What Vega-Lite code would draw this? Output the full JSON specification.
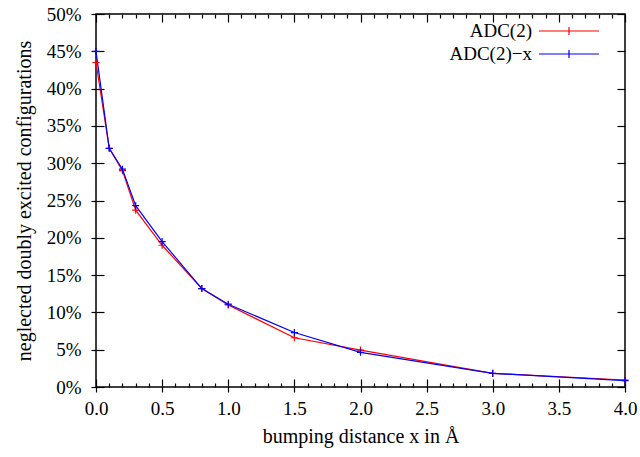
{
  "$schema": "https://vega.github.io/schema/vega-lite/v6.json",
  "autosize": {"type": "none"},
  "padding": {"left": 96, "top": 14, "right": 15, "bottom": 70},
  "width": 529,
  "height": 373,
  "background": "white",
  "config": {
    "view": {"stroke": "black", "strokeWidth": 1.5},
    "font": "Liberation Serif",
    "legend": {"labelFont": "Liberation Serif", "labelFontSize": 19, "labelColor": "black"}
  },
  "data": {
    "values": [
      {"x": 0.0, "v": 0.435, "series": "ADC(2)"},
      {"x": 0.1, "v": 0.320, "series": "ADC(2)"},
      {"x": 0.2, "v": 0.290, "series": "ADC(2)"},
      {"x": 0.3, "v": 0.237, "series": "ADC(2)"},
      {"x": 0.5, "v": 0.190, "series": "ADC(2)"},
      {"x": 0.8, "v": 0.132, "series": "ADC(2)"},
      {"x": 1.0, "v": 0.110, "series": "ADC(2)"},
      {"x": 1.5, "v": 0.066, "series": "ADC(2)"},
      {"x": 2.0, "v": 0.0495, "series": "ADC(2)"},
      {"x": 3.0, "v": 0.0183, "series": "ADC(2)"},
      {"x": 4.0, "v": 0.0094, "series": "ADC(2)"},
      {"x": 0.0, "v": 0.450, "series": "ADC(2)−x"},
      {"x": 0.1, "v": 0.320, "series": "ADC(2)−x"},
      {"x": 0.2, "v": 0.292, "series": "ADC(2)−x"},
      {"x": 0.3, "v": 0.243, "series": "ADC(2)−x"},
      {"x": 0.5, "v": 0.195, "series": "ADC(2)−x"},
      {"x": 0.8, "v": 0.132, "series": "ADC(2)−x"},
      {"x": 1.0, "v": 0.111, "series": "ADC(2)−x"},
      {"x": 1.5, "v": 0.073, "series": "ADC(2)−x"},
      {"x": 2.0, "v": 0.0465, "series": "ADC(2)−x"},
      {"x": 3.0, "v": 0.0183, "series": "ADC(2)−x"},
      {"x": 4.0, "v": 0.0085, "series": "ADC(2)−x"}
    ]
  },
  "layer": [
    {
      "mark": {"type": "line", "strokeWidth": 1.2},
      "encoding": {
        "x": {
          "field": "x", "type": "quantitative",
          "scale": {"domain": [0, 4], "nice": false, "zero": false},
          "axis": {"orient": "bottom", "offset": -8, "domain": false, "grid": false, "ticks": true, "tickSize": 8, "tickColor": "black", "tickWidth": 1.2,
                   "labels": false, "title": null,
                   "values": [0,0.5,1,1.5,2,2.5,3,3.5,4]}
        },
        "y": {
          "field": "v", "type": "quantitative",
          "scale": {"domain": [0, 0.5], "nice": false},
          "axis": {"orient": "left", "offset": -8, "domain": false, "grid": false, "ticks": true, "tickSize": 8, "tickColor": "black", "tickWidth": 1.2,
                   "labels": false, "title": null,
                   "values": [0,0.05,0.1,0.15,0.2,0.25,0.3,0.35,0.4,0.45,0.5]}
        },
        "color": {
          "field": "series", "type": "nominal",
          "scale": {"domain": ["ADC(2)", "ADC(2)−x"], "range": ["#ff0000", "#0000ff"]},
          "legend": {
            "title": null,
            "orient": "none",
            "legendX": 462,
            "legendY": 6,
            "padding": 0,
            "symbolType": "M-3,0H3M0,-0.4V0.4",
            "symbolSize": 400,
            "symbolStrokeWidth": 1.2,
            "labelAlign": "right",
            "labelOffset": -48,
            "rowPadding": 2
          }
        }
      }
    },
    {
      "mark": {"type": "point", "shape": "M-1,0H1M0,-1V1", "filled": false, "size": 50, "strokeWidth": 1.2, "opacity": 1},
      "encoding": {
        "x": {"field": "x", "type": "quantitative", "axis": {
            "orient": "top", "offset": -8, "domain": false, "grid": false, "ticks": true, "tickSize": 8, "tickColor": "black", "tickWidth": 1.2,
            "labels": false, "title": null,
            "values": [0,0.5,1,1.5,2,2.5,3,3.5,4]}},
        "y": {"field": "v", "type": "quantitative", "axis": {
            "orient": "right", "offset": -8, "domain": false, "grid": false, "ticks": true, "tickSize": 8, "tickColor": "black", "tickWidth": 1.2,
            "labels": false, "title": null,
            "values": [0,0.05,0.1,0.15,0.2,0.25,0.3,0.35,0.4,0.45,0.5]}},
        "color": {"field": "series", "type": "nominal", "legend": null}
      }
    },
    {
      "mark": {"type": "point", "opacity": 0},
      "encoding": {
        "x": {"field": "x", "type": "quantitative", "axis": {
            "orient": "bottom", "offset": -4, "domain": false, "grid": false, "ticks": true, "tickSize": 4, "tickColor": "black", "tickWidth": 1.2,
            "labels": false, "title": null,
            "values": [0.1,0.2,0.3,0.4,0.6,0.7,0.8,0.9,1.1,1.2,1.3,1.4,1.6,1.7,1.8,1.9,2.1,2.2,2.3,2.4,2.6,2.7,2.8,2.9,3.1,3.2,3.3,3.4,3.6,3.7,3.8,3.9]}},
        "y": {"field": "v", "type": "quantitative", "axis": {
            "orient": "left", "domain": false, "grid": false, "ticks": true, "tickSize": 5, "tickColor": "black", "tickWidth": 1.2, "labelPadding": 10, "format": ".0%",
            "labelFont": "Liberation Serif", "labelFontSize": 19, "labelColor": "black", "labelOverlap": false, "labelFlush": false, "labelBound": false,
            "values": [0,0.05,0.1,0.15,0.2,0.25,0.3,0.35,0.4,0.45,0.5],
            "title": "neglected doubly excited configurations", "titlePadding": 12,
            "titleFont": "Liberation Serif", "titleFontSize": 20, "titleFontWeight": "normal", "titleColor": "black"}}
      }
    },
    {
      "mark": {"type": "point", "opacity": 0},
      "encoding": {
        "x": {"field": "x", "type": "quantitative", "axis": {
            "orient": "top", "offset": -4, "domain": false, "grid": false, "ticks": true, "tickSize": 4, "tickColor": "black", "tickWidth": 1.2,
            "labels": false, "title": null,
            "values": [0.1,0.2,0.3,0.4,0.6,0.7,0.8,0.9,1.1,1.2,1.3,1.4,1.6,1.7,1.8,1.9,2.1,2.2,2.3,2.4,2.6,2.7,2.8,2.9,3.1,3.2,3.3,3.4,3.6,3.7,3.8,3.9]}},
        "y": {"field": "v", "type": "quantitative", "axis": null}
      }
    },
    {
      "mark": {"type": "point", "opacity": 0},
      "encoding": {
        "x": {"field": "x", "type": "quantitative", "axis": {
            "orient": "bottom", "domain": false, "grid": false, "ticks": true, "tickSize": 5, "tickColor": "black", "tickWidth": 1.2, "labelPadding": 7, "format": ".1f",
            "labelFont": "Liberation Serif", "labelFontSize": 19, "labelColor": "black", "labelOverlap": false, "labelFlush": false, "labelBound": false,
            "values": [0,0.5,1,1.5,2,2.5,3,3.5,4],
            "title": "bumping distance x in Å", "titlePadding": 8,
            "titleFont": "Liberation Serif", "titleFontSize": 20, "titleFontWeight": "normal", "titleColor": "black"}},
        "y": {"field": "v", "type": "quantitative", "axis": null}
      }
    }
  ],
  "resolve": {"axis": {"x": "independent", "y": "independent"}}
}
